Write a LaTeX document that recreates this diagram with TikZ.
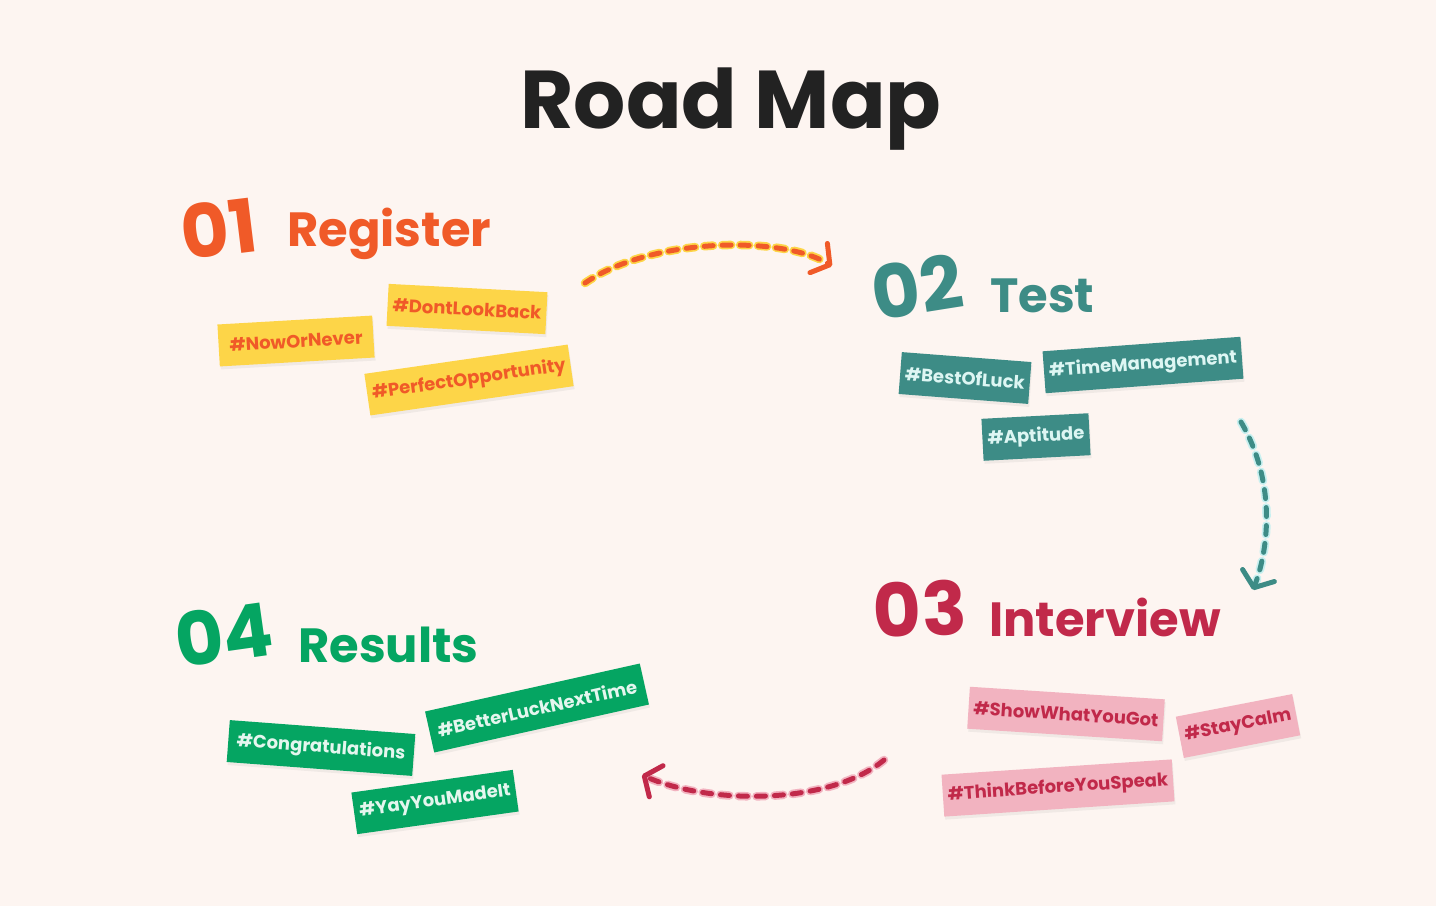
\documentclass[tikz,border=0pt]{standalone}
\usepackage{fontspec}
\setmainfont{Poppins}
\usetikzlibrary{arrows.meta, shadows}

\definecolor{paper}{HTML}{FDF5F1}
\definecolor{ink}{HTML}{222222}
\definecolor{regcolor}{HTML}{F05A28}
\definecolor{regfill}{HTML}{FDD548}
\definecolor{testcolor}{HTML}{3D8C86}
\definecolor{testink}{HTML}{DDF6F3}
\definecolor{testglow}{HTML}{C8F0F0}
\definecolor{intcolor}{HTML}{C1294A}
\definecolor{intfill}{HTML}{F2B3C0}
\definecolor{rescolor}{HTML}{05A562}
\definecolor{resink}{HTML}{E4F6EE}

\tikzstyle{heading} = [font=\fontsize{82}{82}\selectfont\bfseries, text=ink, inner sep=0pt]
\tikzstyle{number} = [font=\fontsize{74}{74}\selectfont\bfseries, inner sep=0pt]
\tikzstyle{steptitle} = [font=\fontsize{48}{48}\selectfont\bfseries, inner sep=0pt, anchor=base west]
\tikzstyle{tag} = [rectangle, minimum height=42pt, inner xsep=5pt, text centered, font=\fontsize{18}{18}\selectfont\bfseries, drop shadow={shadow xshift=1pt, shadow yshift=-3pt, opacity=0.1}]
\tikzstyle{regtag} = [tag, fill=regfill, text=regcolor]
\tikzstyle{testtag} = [tag, fill=testcolor, text=testink]
\tikzstyle{inttag} = [tag, fill=intfill, text=intcolor]
\tikzstyle{restag} = [tag, fill=rescolor, text=resink]
\tikzstyle{glow} = [line width=8.5pt, line cap=round, dash pattern=on 9pt off 9pt]
\tikzstyle{trail} = [line width=5pt, line cap=round, dash pattern=on 9pt off 9pt, -{Straight Barb[length=13pt, width=34pt, round]}]

\begin{document}
\begin{tikzpicture}[x=1pt, y=-1pt]

\fill [paper] (0,0) rectangle (1436,906);
\useasboundingbox (0,0) rectangle (1436,906);

\node (title) [heading, anchor=base] at (731,128) {Road Map};

% 01 Register
\node (num1) [number, text=regcolor, rotate=7] at (219,228) {01};
\node (reg) [steptitle, text=regcolor] at (287,246) {Register};
\node (dontlook) [regtag, minimum width=156pt, rotate=-3] at (467,309) {\#DontLookBack};
\node (nowor) [regtag, minimum width=155pt, rotate=3.3] at (296,341) {\#NowOrNever};
\node (perfect) [regtag, minimum width=204pt, rotate=8.2] at (469,380) {\#PerfectOpportunity};

% 02 Test
\node (num2) [number, text=testcolor, rotate=9] at (917,287) {02};
\node (test) [steptitle, text=testcolor] at (990,312) {Test};
\node (bestof) [testtag, minimum width=129pt, rotate=-4.4] at (965,378) {\#BestOfLuck};
\node (timeman) [testtag, minimum width=191pt, rotate=4.2] at (1143,365) {\#TimeManagement};
\node (aptitude) [testtag, minimum width=100pt, rotate=3] at (1036,437) {\#Aptitude};

% 03 Interview
\node (num3) [number, text=intcolor, rotate=3] at (920,609) {03};
\node (interview) [steptitle, text=intcolor] at (989,636) {Interview};
\node (showwhat) [inttag, minimum width=187pt, rotate=-3.7] at (1066,714) {\#ShowWhatYouGot};
\node (staycalm) [inttag, minimum width=114pt, rotate=11] at (1238,726) {\#StayCalm};
\node (thinkbefore) [inttag, minimum width=227pt, rotate=3.8] at (1058,788) {\#ThinkBeforeYouSpeak};

% 04 Results
\node (num4) [number, text=rescolor, rotate=8] at (224,634) {04};
\node (results) [steptitle, text=rescolor] at (298,662) {Results};
\node (congrats) [restag, minimum width=186pt, rotate=-4.3] at (321,748) {\#Congratulations};
\node (betterluck) [restag, minimum width=220pt, rotate=12.6] at (537,708) {\#BetterLuckNextTime};
\node (yayyou) [restag, minimum width=163pt, rotate=8] at (435,802) {\#YayYouMadeIt};

% dashed arrows between the steps
\coordinate (reg out) at (585,283);
\coordinate (test in) at (832,266);
\coordinate (test out) at (1241,422);
\coordinate (int in) at (1253,590);
\coordinate (int out) at (884,760);
\coordinate (res in) at (642,775);

\draw [glow, regfill, shorten >=6pt] (reg out) .. controls (650,238) and (780,235) .. (test in);
\draw [trail, regcolor] (reg out) .. controls (650,238) and (780,235) .. (test in);
\draw [glow, testglow, shorten >=6pt] (test out) .. controls (1275,480) and (1270,545) .. (int in);
\draw [trail, testcolor] (test out) .. controls (1275,480) and (1270,545) .. (int in);
\draw [glow, intfill, shorten >=6pt] (int out) .. controls (830,805) and (710,805) .. (res in);
\draw [trail, intcolor] (int out) .. controls (830,805) and (710,805) .. (res in);

\end{tikzpicture}
\end{document}
